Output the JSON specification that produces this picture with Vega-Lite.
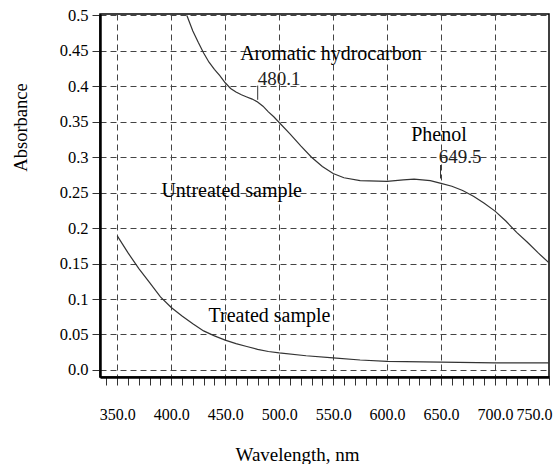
{
  "$schema": "https://vega.github.io/schema/vega-lite/v6.json",
  "autosize": "none",
  "width": 449,
  "height": 363,
  "padding": {"left": 100, "top": 14, "right": 4, "bottom": 87},
  "background": "white",
  "config": {
    "view": {"stroke": "black", "strokeWidth": 1.5},
    "font": "Liberation Serif, Times New Roman, serif",
    "axis": {"labelFont": "Liberation Serif, Times New Roman, serif", "titleFont": "Liberation Serif, Times New Roman, serif", "labelColor": "black", "titleColor": "black", "titleFontWeight": "normal"}
  },
  "datasets": {
    "curves": [
      {"series": "Untreated", "wl": 414.5, "abs": 0.5},
      {"series": "Untreated", "wl": 420, "abs": 0.478},
      {"series": "Untreated", "wl": 425, "abs": 0.462},
      {"series": "Untreated", "wl": 430, "abs": 0.447},
      {"series": "Untreated", "wl": 435, "abs": 0.434},
      {"series": "Untreated", "wl": 440, "abs": 0.424},
      {"series": "Untreated", "wl": 445, "abs": 0.415},
      {"series": "Untreated", "wl": 450, "abs": 0.405},
      {"series": "Untreated", "wl": 455, "abs": 0.397},
      {"series": "Untreated", "wl": 460, "abs": 0.392},
      {"series": "Untreated", "wl": 465, "abs": 0.388},
      {"series": "Untreated", "wl": 470, "abs": 0.385},
      {"series": "Untreated", "wl": 475, "abs": 0.382},
      {"series": "Untreated", "wl": 480, "abs": 0.378},
      {"series": "Untreated", "wl": 485, "abs": 0.372},
      {"series": "Untreated", "wl": 490, "abs": 0.364},
      {"series": "Untreated", "wl": 495, "abs": 0.357},
      {"series": "Untreated", "wl": 500, "abs": 0.349},
      {"series": "Untreated", "wl": 510, "abs": 0.333},
      {"series": "Untreated", "wl": 520, "abs": 0.316},
      {"series": "Untreated", "wl": 530, "abs": 0.300},
      {"series": "Untreated", "wl": 540, "abs": 0.287},
      {"series": "Untreated", "wl": 550, "abs": 0.277},
      {"series": "Untreated", "wl": 560, "abs": 0.271},
      {"series": "Untreated", "wl": 575, "abs": 0.267},
      {"series": "Untreated", "wl": 600, "abs": 0.266},
      {"series": "Untreated", "wl": 615, "abs": 0.268},
      {"series": "Untreated", "wl": 625, "abs": 0.269},
      {"series": "Untreated", "wl": 640, "abs": 0.267},
      {"series": "Untreated", "wl": 650, "abs": 0.263},
      {"series": "Untreated", "wl": 660, "abs": 0.259},
      {"series": "Untreated", "wl": 670, "abs": 0.253},
      {"series": "Untreated", "wl": 680, "abs": 0.245},
      {"series": "Untreated", "wl": 690, "abs": 0.235},
      {"series": "Untreated", "wl": 700, "abs": 0.224},
      {"series": "Untreated", "wl": 710, "abs": 0.210},
      {"series": "Untreated", "wl": 720, "abs": 0.194},
      {"series": "Untreated", "wl": 730, "abs": 0.180},
      {"series": "Untreated", "wl": 740, "abs": 0.165},
      {"series": "Untreated", "wl": 750, "abs": 0.151},
      {"series": "Treated", "wl": 350, "abs": 0.189},
      {"series": "Treated", "wl": 360, "abs": 0.165},
      {"series": "Treated", "wl": 370, "abs": 0.143},
      {"series": "Treated", "wl": 380, "abs": 0.123},
      {"series": "Treated", "wl": 390, "abs": 0.103},
      {"series": "Treated", "wl": 400, "abs": 0.088},
      {"series": "Treated", "wl": 410, "abs": 0.076},
      {"series": "Treated", "wl": 420, "abs": 0.065},
      {"series": "Treated", "wl": 430, "abs": 0.055},
      {"series": "Treated", "wl": 440, "abs": 0.048},
      {"series": "Treated", "wl": 450, "abs": 0.042},
      {"series": "Treated", "wl": 460, "abs": 0.037},
      {"series": "Treated", "wl": 470, "abs": 0.033},
      {"series": "Treated", "wl": 480, "abs": 0.029},
      {"series": "Treated", "wl": 490, "abs": 0.026},
      {"series": "Treated", "wl": 500, "abs": 0.024},
      {"series": "Treated", "wl": 525, "abs": 0.020},
      {"series": "Treated", "wl": 550, "abs": 0.017},
      {"series": "Treated", "wl": 575, "abs": 0.014},
      {"series": "Treated", "wl": 600, "abs": 0.012},
      {"series": "Treated", "wl": 650, "abs": 0.011},
      {"series": "Treated", "wl": 700, "abs": 0.010},
      {"series": "Treated", "wl": 750, "abs": 0.010}
    ],
    "markers": [
      {"wl": 480.1, "abs": 0.381, "abs2": 0.401},
      {"wl": 649.5, "abs": 0.270, "abs2": 0.289}
    ],
    "words": [
      {"text": "Aromatic hydrocarbon", "wl": 548, "abs": 0.445},
      {"text": "Phenol", "wl": 648, "abs": 0.331},
      {"text": "Untreated sample", "wl": 456, "abs": 0.253},
      {"text": "Treated sample", "wl": 491, "abs": 0.076}
    ],
    "numbers": [
      {"text": "480.1", "wl": 500, "abs": 0.411},
      {"text": "649.5", "wl": 667.6, "abs": 0.301}
    ]
  },
  "encoding": {
    "x": {
      "field": "wl", "type": "quantitative",
      "scale": {"domain": [334, 750], "nice": false, "zero": false},
      "axis": {
        "title": "Wavelength, nm",
        "titleFontSize": 19,
        "titleX": 197, "titleY": 83, "titleBaseline": "alphabetic", "titleAlign": "center",
        "values": [340,350,360,370,380,390,400,410,420,430,440,450,460,470,480,490,500,510,520,530,540,550,560,570,580,590,600,610,620,630,640,650,660,670,680,690,700,710,720,730,740,750],
        "labelExpr": "datum.value % 50 === 0 ? format(datum.value, '.1f') : ''",
        "labelFontSize": 16,
        "labelPadding": 21, "labelOverlap": false, "labelFlush": false,
        "labelOffset": {"condition": {"test": "datum.value === 750", "value": -15}, "value": 0},
        "tickSize": 8, "tickColor": "#333333", "tickWidth": 1,
        "domainColor": "black", "domainWidth": 2.5,
        "grid": true,
        "gridColor": "#444444", "gridDash": [6, 4], "gridWidth": 1,
        "gridOpacity": {"condition": {"test": "datum.value % 50 === 0 && datum.value < 750", "value": 1}, "value": 0}
      }
    },
    "y": {
      "field": "abs", "type": "quantitative",
      "scale": {"domain": [-0.01, 0.502], "nice": false, "zero": false},
      "axis": {
        "title": "Absorbance",
        "titleFontSize": 18.5,
        "titleX": -74, "titleY": 113, "titleBaseline": "alphabetic", "titleAlign": "center", "titleAngle": -90,
        "values": [0, 0.05, 0.1, 0.15, 0.2, 0.25, 0.3, 0.35, 0.4, 0.45, 0.5],
        "labelExpr": "datum.value === 0 ? '0.0' : format(datum.value, '~g')",
        "labelFontSize": 16.5,
        "labelPadding": 4, "labelOverlap": false, "labelFlush": false,
        "tickSize": 8, "tickColor": "#333333",
        "domainColor": "black", "domainWidth": 2.5,
        "grid": true, "gridColor": "#444444", "gridDash": [6, 4], "gridWidth": 1
      }
    }
  },
  "layer": [
    {
      "data": {"name": "curves"},
      "mark": {"type": "line", "color": "#333333", "strokeWidth": 1.2, "clip": true},
      "encoding": {
        "detail": {"field": "series", "type": "nominal"}
      }
    },
    {
      "data": {"name": "markers"},
      "mark": {"type": "rule", "color": "#333333", "strokeWidth": 1},
      "encoding": {
        "y2": {"field": "abs2"}
      }
    },
    {
      "data": {"name": "words"},
      "mark": {"type": "text", "fontSize": 20, "color": "black", "align": "center", "baseline": "middle"},
      "encoding": {
        "text": {"field": "text"}
      }
    },
    {
      "data": {"name": "numbers"},
      "mark": {"type": "text", "fontSize": 19, "color": "#222222", "align": "center", "baseline": "middle"},
      "encoding": {
        "text": {"field": "text"}
      }
    }
  ]
}
